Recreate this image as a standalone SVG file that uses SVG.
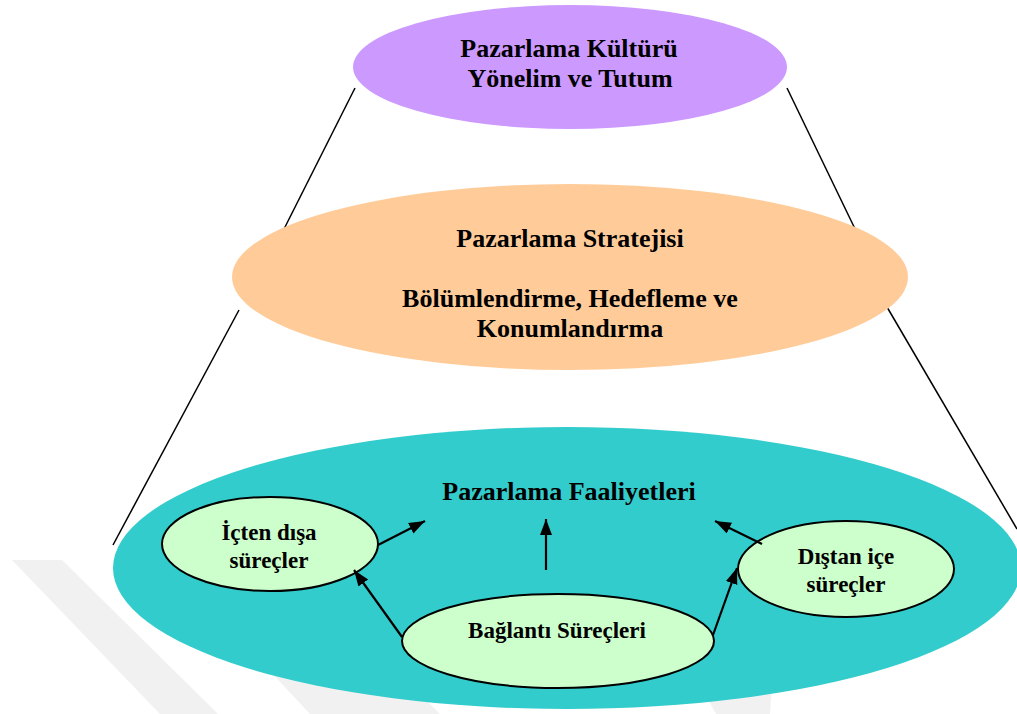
<svg xmlns="http://www.w3.org/2000/svg" width="1017" height="714" viewBox="0 0 1017 714">
  <style>
    .t { font-family: "Liberation Serif", "Times New Roman", serif; font-weight: bold; fill: #000; text-anchor: middle; }
    .big { font-size: 26px; }
    .small { font-size: 23px; }
    .guide { stroke: #000; stroke-width: 1.5; fill: none; }
    .sub { fill: #CCFFCC; stroke: #000; stroke-width: 2; }
    .arrow { stroke: #000; stroke-width: 2.2; fill: none; marker-end: url(#head); }
    .mark { fill: #F1F1F1; }
  </style>
  <defs>
    <marker id="head" markerUnits="userSpaceOnUse" markerWidth="18" markerHeight="14" refX="16" refY="6" orient="auto">
      <path d="M0,0 L16,6 L0,12 z" fill="#000"/>
    </marker>
  </defs>

  <rect width="1017" height="714" fill="#FFFFFF"/>

  <!-- faint background bands -->
  <g id="background">
    <polygon class="mark" points="12,560 62,560 218,714 160,714"/>
    <polygon class="mark" points="180,575 300,575 440,714 310,714"/>
    <polygon class="mark" points="700,685 772,685 770,714 716,714"/>
  </g>

  <!-- side guide lines forming the funnel -->
  <g id="guides">
    <line class="guide" x1="355" y1="88" x2="282" y2="233"/>
    <line class="guide" x1="239" y1="310" x2="113" y2="545"/>
    <line class="guide" x1="787" y1="88" x2="857" y2="233"/>
    <line class="guide" x1="887" y1="307" x2="1017" y2="529"/>
  </g>

  <g id="kultur">
    <ellipse cx="570" cy="67" rx="217" ry="62" fill="#CC99FF"/>
    <text class="t big" x="569" y="57">Pazarlama Kültürü</text>
    <text class="t big" x="570" y="87">Yönelim ve Tutum</text>
  </g>

  <g id="strateji">
    <ellipse cx="570" cy="277" rx="338" ry="93" fill="#FFCC99"/>
    <text class="t big" x="570" y="247">Pazarlama Stratejisi</text>
    <text class="t big" x="570" y="307">Bölümlendirme, Hedefleme ve</text>
    <text class="t big" x="570" y="337">Konumlandırma</text>
  </g>

  <g id="faaliyetler">
    <ellipse cx="567" cy="568" rx="454" ry="141" fill="#33CCCC"/>
    <text class="t big" x="569" y="500">Pazarlama Faaliyetleri</text>
  </g>

  <g id="icten-disa">
    <ellipse class="sub" cx="270" cy="544" rx="108" ry="47"/>
    <text class="t small" x="269" y="540">İçten dışa</text>
    <text class="t small" x="269" y="568">süreçler</text>
  </g>

  <g id="distan-ice">
    <ellipse class="sub" cx="846" cy="569" rx="108" ry="48"/>
    <text class="t small" x="846" y="564">Dıştan içe</text>
    <text class="t small" x="846" y="592">süreçler</text>
  </g>

  <g id="baglanti">
    <ellipse class="sub" cx="558" cy="641" rx="156" ry="47"/>
    <text class="t small" x="557" y="638">Bağlantı Süreçleri</text>
  </g>

  <!-- arrows between the process nodes -->
  <g id="connectors">
    <line class="arrow" x1="378" y1="545" x2="425" y2="521"/>
    <line class="arrow" x1="402" y1="637" x2="354" y2="570"/>
    <line class="arrow" x1="546" y1="570" x2="546" y2="519"/>
    <line class="arrow" x1="713" y1="635" x2="737" y2="568"/>
    <line class="arrow" x1="762" y1="544" x2="715" y2="521"/>
  </g>
</svg>
